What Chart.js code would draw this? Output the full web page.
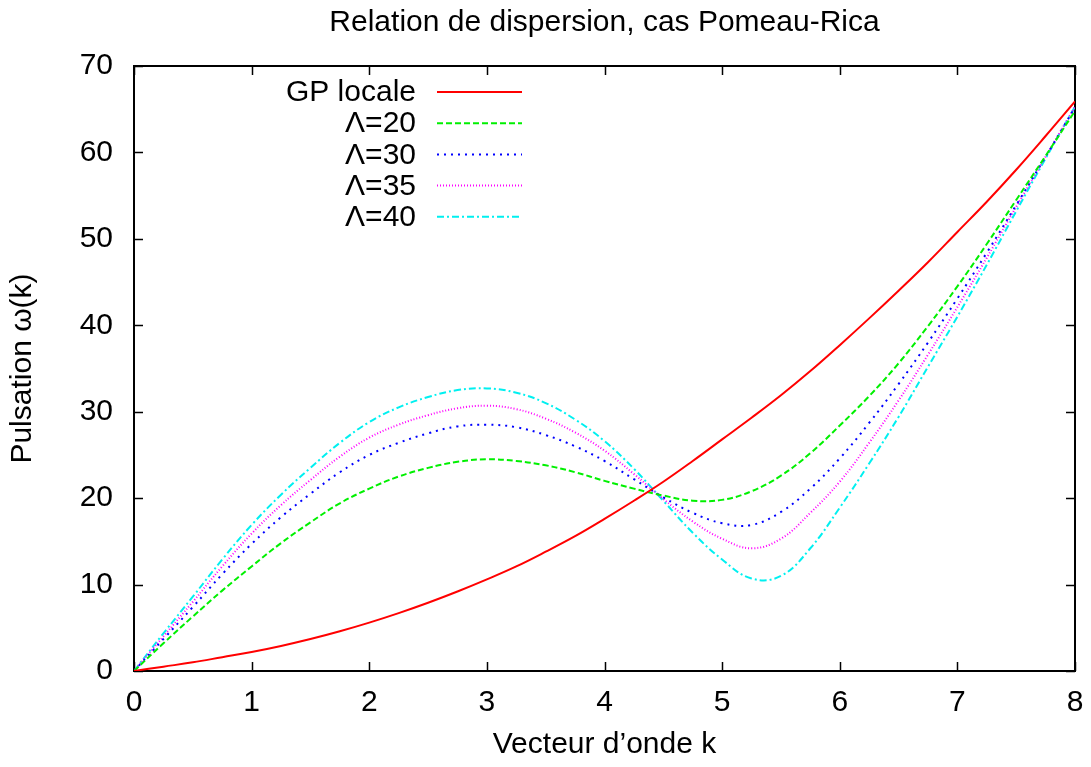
<!DOCTYPE html>
<html>
<head>
<meta charset="utf-8">
<script src="https://cdn.jsdelivr.net/npm/chart.js@4/dist/chart.umd.min.js"></script>
<style>
  html, body { margin: 0; padding: 0; background: #fff; }
  #wrap { width: 1091px; height: 767px; }
</style>
</head>
<body>
<div id="wrap"><canvas id="c" width="1091" height="767"></canvas></div>
<script>
// vecteur d'onde k (lu sur la figure, pas de 0.25)
var kVals = [0, 0.25, 0.5, 0.75, 1, 1.25, 1.5, 1.75, 2, 2.25, 2.5, 2.75, 3, 3.25, 3.5, 3.75,
             4, 4.25, 4.5, 4.75, 5, 5.25, 5.5, 5.75, 6, 6.25, 6.5, 6.75, 7, 7.25, 7.5, 7.75, 8];

var gpLocale = [0, 0.5, 1.0, 1.6, 2.2, 2.9, 3.7, 4.6, 5.6, 6.7, 7.9, 9.2, 10.6, 12.1, 13.8, 15.6,
                17.6, 19.7, 21.9, 24.3, 26.8, 29.3, 31.9, 34.7, 37.7, 40.8, 44.0, 47.3, 50.8, 54.3, 58.0, 61.9, 65.9];
var lambda20 = [0, 3.2, 6.3, 9.3, 12.1, 14.8, 17.2, 19.4, 21.1, 22.5, 23.5, 24.2, 24.5, 24.3, 23.8, 23.0,
                22.0, 21.1, 20.3, 19.7, 19.8, 20.8, 22.6, 25.2, 28.4, 31.8, 35.6, 39.9, 44.5, 49.4, 54.5, 59.6, 64.8];
var lambda30 = [0, 3.7, 7.4, 11.2, 14.7, 17.8, 20.5, 23.0, 25.0, 26.4, 27.5, 28.3, 28.5, 28.2, 27.3, 26.0,
                24.3, 22.2, 20.1, 18.3, 17.1, 16.9, 18.4, 21.1, 24.6, 28.7, 33.2, 38.0, 43.1, 48.4, 53.9, 59.5, 65.2];
var lambda35 = [0, 4.0, 8.0, 12.1, 15.9, 19.2, 22.1, 24.8, 27.0, 28.5, 29.6, 30.4, 30.7, 30.3, 29.2, 27.6,
                25.5, 22.8, 19.9, 17.3, 15.3, 14.2, 15.3, 18.3, 21.9, 26.4, 31.3, 36.6, 42.1, 47.8, 53.7, 59.5, 65.3];
var lambda40 = [0, 4.35, 8.6, 12.9, 16.9, 20.4, 23.5, 26.4, 28.8, 30.5, 31.7, 32.5, 32.7, 32.2, 31.0, 29.1,
                26.6, 23.4, 19.7, 16.0, 12.9, 10.7, 11.0, 14.2, 18.9, 24.0, 29.4, 35.2, 41.0, 47.0, 53.2, 59.3, 65.3];

var seriesLabels = ['GP locale', '\u039B=20', '\u039B=30', '\u039B=35', '\u039B=40'];
var xTicks = [0, 1, 2, 3, 4, 5, 6, 7, 8];
var yTicks = [0, 10, 20, 30, 40, 50, 60, 70];

function pts(arr) {
  return arr.map(function (v, i) { return { x: kVals[i], y: v }; });
}

var FONT = '"Liberation Sans", Arial, Helvetica, sans-serif';
var FSIZE = 30;
Chart.defaults.color = '#000';
Chart.defaults.font.family = FONT;

// cadre + graduations vers l'interieur, comme gnuplot
var gpFrame = {
  id: 'gpFrame',
  beforeDatasetsDraw: function (chart) {
    var ctx = chart.ctx, a = chart.chartArea;
    var xs = chart.scales.x, ys = chart.scales.y;
    ctx.save();
    ctx.strokeStyle = '#000';
    ctx.lineWidth = 1.5;
    ctx.beginPath();
    xTicks.forEach(function (t) {
      var px = Math.round(xs.getPixelForValue(t)) + 0.5;
      ctx.moveTo(px, a.bottom); ctx.lineTo(px, a.bottom - 9);
      ctx.moveTo(px, a.top); ctx.lineTo(px, a.top + 9);
    });
    yTicks.forEach(function (t) {
      var py = Math.round(ys.getPixelForValue(t)) + 0.5;
      ctx.moveTo(a.left, py); ctx.lineTo(a.left + 9, py);
      ctx.moveTo(a.right, py); ctx.lineTo(a.right - 9, py);
    });
    ctx.stroke();
    ctx.lineWidth = 2;
    ctx.strokeRect(a.left, a.top, a.right - a.left, a.bottom - a.top);
    ctx.restore();
  }
};

// legende style gnuplot : texte aligne a droite, echantillon a droite
var gpLegend = {
  id: 'gpLegend',
  afterDraw: function (chart) {
    var ctx = chart.ctx;
    ctx.save();
    ctx.font = FSIZE + 'px ' + FONT;
    ctx.textAlign = 'right';
    ctx.textBaseline = 'middle';
    chart.data.datasets.forEach(function (ds, i) {
      var y = 92 + i * 31.2;
      ctx.fillStyle = '#000';
      ctx.fillText(ds.label, 416, y + 1);
      ctx.strokeStyle = ds.borderColor;
      ctx.lineWidth = ds.borderWidth;
      ctx.setLineDash(ds.borderDash || []);
      ctx.beginPath();
      ctx.moveTo(437, y); ctx.lineTo(522, y);
      ctx.stroke();
    });
    ctx.restore();
  }
};

function mk(label, data, color, dash) {
  return {
    label: label,
    data: pts(data),
    borderColor: color,
    borderWidth: 2,
    borderDash: dash,
    pointRadius: 0,
    fill: false,
    tension: 0.4
  };
}

var ctx = document.getElementById('c');
var chart = new Chart(ctx, {
  type: 'line',
  data: {
    datasets: [
      mk(seriesLabels[0], gpLocale, '#ff0000', []),
      mk(seriesLabels[1], lambda20, '#00f000', [6, 3]),
      mk(seriesLabels[2], lambda30, '#0000ff', [2, 5]),
      mk(seriesLabels[3], lambda35, '#ff00ff', [1, 2]),
      mk(seriesLabels[4], lambda40, '#00f0f0', [7, 3, 2, 3])
    ]
  },
  options: {
    responsive: false,
    animation: false,
    layout: { padding: { left: 0, right: 16, top: 0, bottom: 0 } },
    plugins: {
      legend: { display: false },
      tooltip: { enabled: false },
      title: {
        display: true,
        fullSize: false,
        text: 'Relation de dispersion, cas Pomeau-Rica',
        font: { size: FSIZE, weight: 'normal' },
        padding: { top: 5, bottom: 25 }
      }
    },
    scales: {
      x: {
        type: 'linear',
        min: 0, max: 8,
        afterFit: function (s) { s.height = 96; s.paddingLeft = 0; s.paddingRight = 0; },
        grid: { display: false, drawTicks: false },
        border: { display: false },
        ticks: { stepSize: 1, padding: 14, font: { size: FSIZE }, maxRotation: 0 },
        title: { display: true, text: 'Vecteur d\u2019onde k', font: { size: FSIZE }, padding: { top: 0, bottom: 4 } }
      },
      y: {
        min: 0, max: 70,
        afterFit: function (s) { s.width = 134; s.paddingTop = 0; s.paddingBottom = 0; },
        grid: { display: false, drawTicks: false },
        border: { display: false },
        ticks: { stepSize: 10, padding: 21, font: { size: FSIZE } },
        title: { display: true, text: 'Pulsation \u03C9(k)', font: { size: FSIZE }, padding: { top: 5, bottom: 0 } }
      }
    }
  },
  plugins: [gpFrame, gpLegend]
});
</script>
</body>
</html>
